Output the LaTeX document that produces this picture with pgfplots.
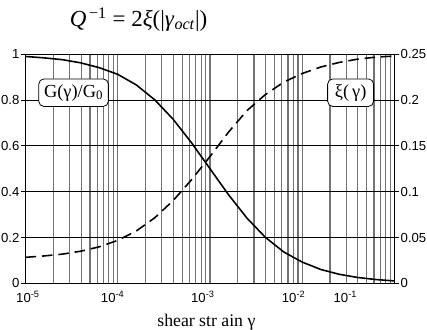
\documentclass[border=0pt]{standalone}
\usepackage{fontspec}
\setmainfont{Liberation Serif}
\setsansfont{Liberation Sans}
\usepackage{pgfplots}
\pgfplotsset{compat=1.18}
\usepackage{pgfplotstable}

\pgfplotstableread{
x G xi
1e-5 0.990 0.0285
1.585e-5 0.984 0.0300
2.512e-5 0.976 0.0320
3.981e-5 0.962 0.0352
6.310e-5 0.941 0.0400
1e-4 0.912 0.0470
1.585e-4 0.866 0.0572
2.512e-4 0.801 0.0716
3.981e-4 0.716 0.0904
6.310e-4 0.613 0.1132
1e-3 0.500 0.1385
1.585e-3 0.387 0.1650
2.512e-3 0.285 0.1885
3.981e-3 0.201 0.2060
6.310e-3 0.137 0.2196
1e-2 0.093 0.2290
1.585e-2 0.061 0.2360
2.512e-2 0.040 0.2410
3.981e-2 0.026 0.2446
6.310e-2 0.017 0.2468
1e-1 0.011 0.2480
}\data

\begin{document}
\begin{tikzpicture}
\useasboundingbox (-19.5pt,-34.7pt) rectangle (305.5pt,215.75pt);
\begin{axis}[
  at={(0,0)}, anchor=south west,
  scale only axis, width=280.8pt, height=174.5pt,
  xmode=log, xmin=1e-5, xmax=1e-1, ymin=0, ymax=1,
  xtick={1.06e-5,8.8e-5,8.36e-4,8.05e-3,2.93e-2},
  xticklabels={10\textsuperscript{-5},10\textsuperscript{-4},10\textsuperscript{-3},10\textsuperscript{-2},10\textsuperscript{-1}},
  minor xtick={1e-5,2e-5,3e-5,4e-5,5e-5,6e-5,7e-5,8e-5,9e-5,1e-4,2e-4,3e-4,4e-4,5e-4,6e-4,7e-4,8e-4,9e-4,1e-3,2e-3,3e-3,4e-3,5e-3,6e-3,7e-3,8e-3,9e-3,1e-2,2e-2,3e-2,4e-2,5e-2,6e-2,7e-2,8e-2,9e-2,1e-1},
  xminorgrids, xmajorgrids=false,
  minor grid style={draw=black!55, line width=0.9pt},
  x tick style={draw=none},
  minor x tick style={draw=none},
  ytick={0,0.2,0.4,0.6,0.8,1},
  yticklabels={0,0.2,0.4,0.6,0.8,1},
  ymajorgrids,
  major grid style={draw=black, line width=0.6pt},
  ytick pos=left,
  y tick style={black, line width=0.6pt},
  tick align=outside, major tick length=3.5pt,
  tick label style={font=\sffamily\fontsize{10}{12}\selectfont},
  yticklabel style={inner sep=1pt},
  xticklabel style={yshift=1pt},
  axis line style={line width=0.8pt},
  xlabel={shear str ain γ},
  xlabel style={font=\fontsize{13.5}{15}\selectfont, at={(axis description cs:0.49,0)}, anchor=center, yshift=-29.5pt},
]
\addplot[black, line width=1.2pt] table[x=x,y=G] {\data};
\end{axis}
\begin{axis}[
  at={(0,0)}, anchor=south west,
  scale only axis, width=280.8pt, height=174.5pt,
  xmode=log, xmin=1e-5, xmax=1e-1, ymin=0, ymax=0.25,
  axis x line=none, axis y line*=right,
  ytick={0,0.05,0.1,0.15,0.2,0.25},
  yticklabels={0,0.05,0.1,0.15,0.2,0.25},
  y tick style={black, line width=0.6pt},
  tick align=outside, major tick length=3.5pt,
  tick label style={font=\sffamily\fontsize{10}{12}\selectfont},
  yticklabel style={inner sep=1pt},
  axis line style={line width=0.8pt},
]
\addplot[black, line width=1.2pt, dash pattern=on 8pt off 4.5pt] table[x=x,y=xi] {\data};
\node[draw=black, fill=white, rounded corners=4pt, line width=0.6pt, minimum width=53pt, minimum height=21pt, inner sep=1pt, font=\fontsize{14}{16}\selectfont] at (rel axis cs:0.130,0.832) {G(γ)/G\textsubscript{0}};
\node[draw=black, fill=white, rounded corners=4pt, line width=0.6pt, minimum width=35pt, minimum height=21pt, inner sep=1pt, font=\fontsize{14}{16}\selectfont] at (rel axis cs:0.881,0.832) {ξ(\,γ)};
\end{axis}
\node[font=\fontsize{17.5}{19}\selectfont] at (86pt,200.8pt) {\textit{Q}\textsuperscript{\,−1} = 2\textit{ξ}(|\textit{γ}\textsubscript{\textit{oct}}|)};
\end{tikzpicture}
\end{document}
